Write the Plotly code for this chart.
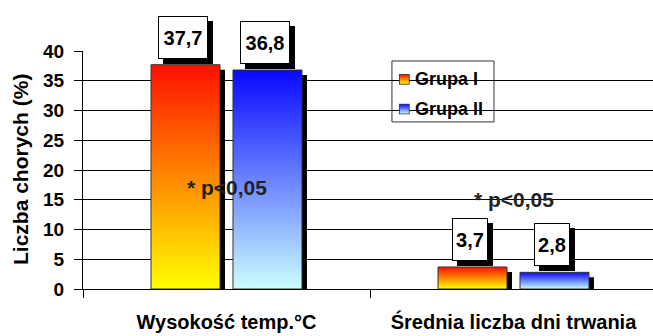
import base64
import plotly.graph_objects as go

categories = ["Wysokość temp.°C", "Średnia liczba dni trwania"]
group_names = ["Grupa I", "Grupa II"]
grupa_1 = [37.7, 3.7]
grupa_2 = [36.8, 2.8]
value_labels_1 = ["37,7", "3,7"]
value_labels_2 = ["36,8", "2,8"]
p_texts = ["* p<0,05", "* p<0,05"]
p_y = [17, 15]
y_ticks = [0, 5, 10, 15, 20, 25, 30, 35, 40]
y_title = "Liczba chorych (%)"

FONT = "Liberation Sans"
grad_1 = ("#FFFF00", "#FF1000")   # bottom, top
grad_2 = ("#CCFFFF", "#0808FF")
series = [
    (grupa_1, value_labels_1, group_names[0], -0.263, grad_1),
    (grupa_2, value_labels_2, group_names[1], 0.0226, grad_2),
]
BW = 0.2404
DX = 0.0174   # shadow shift (units of x)
DY = 0.84     # shadow shift (units of y)

fig = go.Figure()

# shadows
for vals, _, name, off, g in series:
    for i, v in enumerate(vals):
        x0 = i + off + DX
        x1 = x0 + BW
        fig.add_trace(go.Scatter(
            x=[x0, x1, x1, x0, x0], y=[0, 0, v - DY, v - DY, 0],
            mode="lines", fill="toself", fillcolor="black",
            line=dict(width=0, color="black"), showlegend=False, hoverinfo="skip"))

# gradient bars
for vals, _, name, off, g in series:
    for i, v in enumerate(vals):
        x0 = i + off
        x1 = x0 + BW
        fig.add_trace(go.Scatter(
            x=[x0, x1, x1, x0, x0], y=[0, 0, v, v, 0],
            mode="lines", fill="toself",
            fillgradient=dict(type="vertical", colorscale=[[0, g[0]], [1, g[1]]]),
            line=dict(width=1, color="#333333"),
            name=name, showlegend=False, hoverinfo="skip"))

# value boxes
for vals, labels, name, off, g in series:
    for i, (v, t) in enumerate(zip(vals, labels)):
        xc = i + off + BW / 2 - 0.008
        w = 42 if len(t) > 3 else 28
        for sh, bg in ((5, "black"), (0, "white")):
            fig.add_annotation(
                x=xc, y=v, xref="x", yref="y", text=t, showarrow=False,
                xanchor="center", yanchor="bottom", yshift=6 - sh, xshift=sh,
                width=w, height=35, borderpad=3, bgcolor=bg,
                bordercolor="black", borderwidth=1,
                font=dict(family=FONT, size=20, color="black", weight="bold"))

# p-value texts
for i, (t, y) in enumerate(zip(p_texts, p_y)):
    fig.add_annotation(x=i, y=y, text=t, showarrow=False,
                       font=dict(family=FONT, size=21, color="#222222", weight="bold"))

# y-axis title
fig.add_annotation(x=(20 - 83) / 570, y=0.5, xref="paper", yref="paper", text=y_title,
                   textangle=-90, showarrow=False, xanchor="center", yanchor="middle",
                   font=dict(family=FONT, size=21, color="black", weight="bold"))

# manual legend (box, gradient swatches, labels)
LX0, LX1 = 0.542, 0.721
LY0, LY1 = 0.702, 0.958
fig.add_shape(type="rect", xref="paper", yref="paper", x0=LX0, x1=LX1, y0=LY0, y1=LY1,
              fillcolor="white", line=dict(color="#333333", width=1), layer="between")


def swatch(bottom, top):
    svg = ('<svg xmlns="http://www.w3.org/2000/svg" width="11" height="11">'
           '<defs><linearGradient id="g" x1="0" y1="1" x2="0" y2="0">'
           f'<stop offset="0" stop-color="{bottom}"/><stop offset="1" stop-color="{top}"/>'
           '</linearGradient></defs>'
           '<rect x="0.5" y="0.5" width="10" height="10" fill="url(#g)" stroke="#333" stroke-width="1"/></svg>')
    return "data:image/svg+xml;base64," + base64.b64encode(svg.encode()).decode()


legend_rows = [0.881, 0.756]
for name, g, yc in zip(group_names, (grad_1, grad_2), legend_rows):
    fig.add_layout_image(source=swatch(*g), xref="paper", yref="paper",
                         x=0.554, y=yc, sizex=11 / 570, sizey=11 / 238,
                         xanchor="left", yanchor="middle", sizing="stretch", layer="above")
    fig.add_annotation(x=0.579, y=yc, xref="paper", yref="paper", text=name,
                       showarrow=False, xanchor="left", yanchor="middle",
                       font=dict(family=FONT, size=18, color="black", weight="bold"))

fig.update_layout(
    width=653, height=336,
    margin=dict(l=83, r=0, t=51, b=47, autoexpand=False),
    paper_bgcolor="white", plot_bgcolor="white",
    showlegend=False,
    xaxis=dict(range=[-0.5, -0.5 + 570 / 287], tickvals=[0, 1], ticktext=categories,
               ticks="", showgrid=False, zeroline=False, showline=True,
               linecolor="black", linewidth=1, automargin=False,
               ticklabelstandoff=15,
               tickfont=dict(family=FONT, size=20, color="black", weight="bold"),
               minor=dict(tickmode="array", tickvals=[-0.5, 0.5, 1.5], ticks="outside",
                          ticklen=8, tickcolor="black", showgrid=False)),
    yaxis=dict(range=[0, 40], tickvals=y_ticks, ticks="outside", ticklen=8,
               tickcolor="black", showgrid=True, gridcolor="black", gridwidth=1,
               zeroline=False, showline=True, linecolor="black", linewidth=1,
               automargin=False, ticklabelstandoff=6,
               tickfont=dict(family=FONT, size=19, color="black", weight="bold")),
)

fig.write_html("out.html")
